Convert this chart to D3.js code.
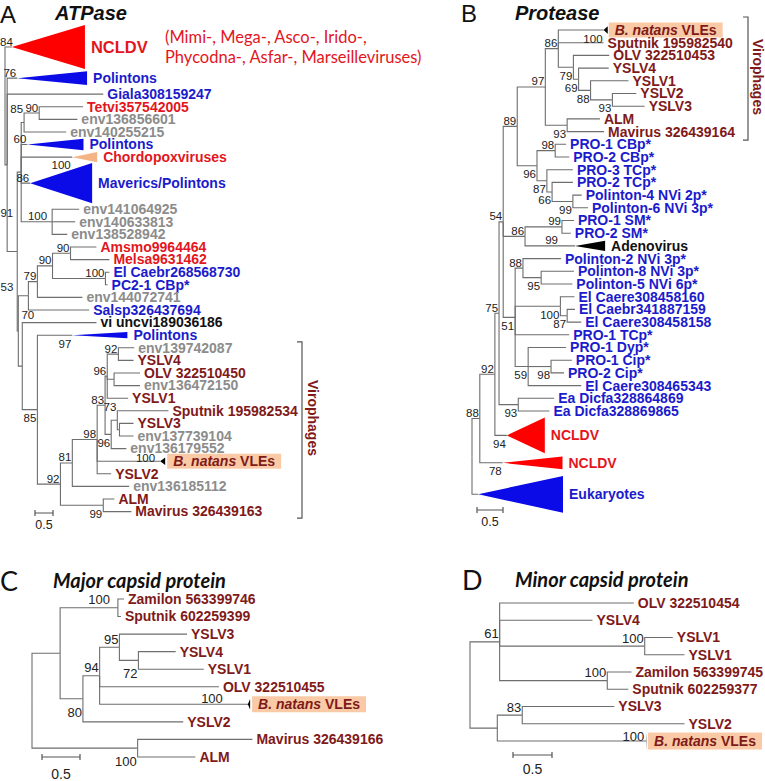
<!DOCTYPE html>
<html><head><meta charset="utf-8">
<script src="https://cdn.jsdelivr.net/npm/d3@7"></script>
<style>body{margin:0;background:#fff}svg{display:block}</style>
</head><body>
<svg id="fig" width="765" height="781"></svg>
<script>
// ---------- DATA ----------
// tree rows: [id, parentId, branchLength, support, label, colourCode]
const treeA = [
 ["R","",0,null,"",""],
 ["NCLDV","R",0.19,84,"NCLDV","r"],
 ["A1","R",0.06,null,"",""],
 ["Pol1","A1",0.28,76,"Polintons","b"],
 ["Giala","A1",2.67,null,"Giala308159247","b"],
 ["A2","A1",0.28,91,"",""],
 ["A2a","A2",0.11,null,"",""],
 ["Q","A2a",0.08,85,"",""],
 ["P","Q",0.42,90,"",""],
 ["Tetvi","P",1.22,null,"Tetvi357542005","r"],
 ["e1368","P",1.06,null,"env136856601","g"],
 ["e1402","Q",1.17,null,"env140255215","g"],
 ["Pol2","A2a",0.17,60,"Polintons","b"],
 ["Chordo","A2a",1.42,null,"Chordopoxviruses","r"],
 ["Mav","A2a",0.25,86,"Maverics/Polintons","b"],
 ["ET","A2a",0.86,100,"",""],
 ["e1410","ET",0.75,null,"env141064925","g"],
 ["e1406","ET",0.64,null,"env140633813","g"],
 ["e1385","ET",0.42,null,"env138528942","g"],
 ["A3","A2",0.03,53,"",""],
 ["N28","A3",0.28,null,"",""],
 ["N79","N28",0.25,79,"",""],
 ["N90b","N79",0.42,90,"",""],
 ["N90a","N90b",0.5,90,"",""],
 ["Amsmo","N90a",0.72,null,"Amsmo9964464","r"],
 ["Melsa","N90a",1.08,null,"Melsa9631462","r"],
 ["E","N90b",1.47,100,"",""],
 ["ElCaebr","E",0.11,null,"El Caebr268568730","b"],
 ["PC21","E",0.06,null,"PC2-1 CBp*","b"],
 ["e1440","N79",1.25,null,"env144072741","g"],
 ["Salsp","N28",1.69,null,"Salsp326437694","b"],
 ["X70","A3",0.11,70,"",""],
 ["vi","X70",2.06,null,"vi uncvi189036186","k"],
 ["C","X70",0.42,85,"",""],
 ["Pol3","C",0.97,97,"Polintons","b"],
 ["D","C",0.64,92,"",""],
 ["N81","D",0.33,81,"",""],
 ["N98","N81",0.69,98,"",""],
 ["N83","N98",0.22,83,"",""],
 ["N96u","N83",0.06,96,"",""],
 ["N92","N96u",0.31,92,"",""],
 ["e1397","N92",0.44,null,"env139742087","g"],
 ["YSLV4","N92",0.42,null,"YSLV4","d"],
 ["NOLV","N96u",0.19,null,"",""],
 ["OLV","NOLV",0.72,null,"OLV 322510450","d"],
 ["e1364","NOLV",0.72,null,"env136472150","g"],
 ["YSLV1","N96u",0.58,null,"YSLV1","d"],
 ["N96L","N83",0.17,96,"",""],
 ["N73","N96L",0.17,73,"",""],
 ["Sput","N73",1.42,null,"Sputnik 195982534","d"],
 ["N3","N73",0.06,null,"",""],
 ["YSLV3","N3",0.39,null,"YSLV3","d"],
 ["e1377","N3",0.39,null,"env137739104","g"],
 ["e1361","N96L",0.42,null,"env136179552","g"],
 ["Bnat","N98",1.75,100,"B. natans VLEs","d"],
 ["YSLV2","N98",0.39,null,"YSLV2","d"],
 ["e13618","N81",1.58,null,"env136185112","g"],
 ["ALMM","D",1.19,99,"",""],
 ["ALM","ALMM",0.31,null,"ALM","d"],
 ["Mavirus","ALMM",0.78,null,"Mavirus 326439163","d"]
];
// collapsed clades: [id, rowSpan, cladeDepth, cladeBreadth(rows), colourCode]
const collapsedA = [
 ["NCLDV",3.4,2.03,3.5,"r"],
 ["Pol1",1.54,1.94,1.1,"b"],
 ["Pol2",1,1.56,0.9,"b"],
 ["Chordo",1,0.69,0.8,"p"],
 ["Mav",3.13,1.72,3.2,"b"],
 ["Pol3",1,1.53,0.5,"b"],
 ["Bnat",1,0.14,0.6,"k"]
];
const innerSupportA = [["Mav",100]];

const treeB = [
 ["R","",0,null,"",""],
 ["N88","R",0.15,88,"",""],
 ["N92","N88",0.29,92,"",""],
 ["N75","N92",0.08,75,"",""],
 ["N54","N75",0.08,54,"",""],
 ["Na","N54",0.27,89,"",""],
 ["Viro","Na",0.54,97,"",""],
 ["N86v","Viro",0.25,86,"",""],
 ["Bnat","N86v",0.87,100,"B. natans VLEs","d"],
 ["Sput","N86v",0.87,null,"Sputnik 195982540","d"],
 ["N79","N86v",0.29,79,"",""],
 ["OLV","N79",0.69,null,"OLV 322510453","d"],
 ["N69","N79",0.1,69,"",""],
 ["YSLV4","N69",0.58,null,"YSLV4","d"],
 ["N88y","N69",0.23,88,"",""],
 ["YSLV1","N88y",0.73,null,"YSLV1","d"],
 ["N93y","N88y",0.42,93,"",""],
 ["YSLV2","N93y",0.46,null,"YSLV2","d"],
 ["YSLV3","N93y",0.62,null,"YSLV3","d"],
 ["ALMg","Viro",0.42,93,"",""],
 ["ALM","ALMg",0.63,null,"ALM","d"],
 ["Mavirus","ALMg",0.71,null,"Mavirus 326439164","d"],
 ["N96p","Na",0.38,96,"",""],
 ["CB98","N96p",0.35,98,"",""],
 ["CB1","CB98",0.21,null,"PRO-1 CBp*","b"],
 ["CB2","CB98",0.27,null,"PRO-2 CBp*","b"],
 ["N87","N96p",0.19,87,"",""],
 ["TC3","N87",0.5,null,"PRO-3 TCp*","b"],
 ["N66","N87",0.1,66,"",""],
 ["TC2","N66",0.4,null,"PRO-2 TCp*","b"],
 ["N99p","N66",0.4,99,"",""],
 ["P4","N99p",0.17,null,"Polinton-4 NVi 2p*","b"],
 ["P6","N99p",0.29,null,"Polinton-6 NVi 3p*","b"],
 ["N86","N54",0.42,86,"",""],
 ["SM99","N86",0.71,99,"",""],
 ["SM1","SM99",0.23,null,"PRO-1 SM*","b"],
 ["SM2","SM99",0.17,null,"PRO-2 SM*","b"],
 ["Adeno","N86",0.96,99,"Adenovirus","k"],
 ["N51","N54",0.23,51,"",""],
 ["N88p","N51",0.15,88,"",""],
 ["P2","N88p",0.73,null,"Polinton-2 NVi 3p*","b"],
 ["N95","N88p",0.35,95,"",""],
 ["P8","N95",0.63,null,"Polinton-8 NVi 3p*","b"],
 ["P5","N95",0.6,null,"Polinton-5 NVi 6p*","b"],
 ["N100e","N51",0.87,100,"",""],
 ["C160","N100e",0.27,null,"El Caere308458160","b"],
 ["N87e","N100e",0.13,87,"",""],
 ["C159","N87e",0.15,null,"El Caebr341887159","b"],
 ["C158","N87e",0.27,null,"El Caere308458158","b"],
 ["TCp1","N51",1.04,null,"PRO-1 TCp*","b"],
 ["N59","N51",0.25,59,"",""],
 ["Dyp","N59",0.73,null,"PRO-1 Dyp*","b"],
 ["N98c","N59",0.44,98,"",""],
 ["Cip1","N98c",0.4,null,"PRO-1 Cip*","b"],
 ["Cip2","N98c",0.25,null,"PRO-2 Cip*","b"],
 ["C343","N59",1.02,null,"El Caere308465343","b"],
 ["Ea93","N75",0.37,93,"",""],
 ["D1","Ea93",0.69,null,"Ea Dicfa328864869","b"],
 ["D2","Ea93",0.6,null,"Ea Dicfa328869865","b"],
 ["NC1","N92",0.23,94,"NCLDV","r"],
 ["NC2","N88",0.44,78,"NCLDV","r"],
 ["Euk","R",0.12,null,"Eukaryotes","b"]
];
const collapsedB = [
 ["Bnat",1,0.08,0.6,"k"],
 ["Adeno",1,0.58,0.8,"k"],
 ["NC1",2.84,0.73,2.83,"r"],
 ["NC2",1.48,1.15,1.0,"r"],
 ["Euk",3.48,1.63,2.9,"b"]
];

const treeC = [
 ["R","",0,null,"",""],
 ["NL","R",0.37,null,"",""],
 ["Z100","NL",0.76,100,"",""],
 ["Zam","Z100",0.08,null,"Zamilon 563399746","d"],
 ["Sput","Z100",0.04,null,"Sputnik 602259399","d"],
 ["N80","NL",0.3,80,"",""],
 ["N94","N80",0.22,94,"",""],
 ["N95","N94",0.26,95,"",""],
 ["YSLV3","N95",0.89,null,"YSLV3","d"],
 ["N72","N95",0.25,72,"",""],
 ["YSLV4","N72",0.49,null,"YSLV4","d"],
 ["YSLV1","N72",0.86,null,"YSLV1","d"],
 ["OLV","N94",1.57,null,"OLV 322510455","d"],
 ["Bnat","N94",1.95,100,"B. natans VLEs","d"],
 ["YSLV2","N80",1.32,null,"YSLV2","d"],
 ["NMA","R",1.39,100,"",""],
 ["Mavirus","NMA",1.51,null,"Mavirus 326439166","d"],
 ["ALM","NMA",0.76,null,"ALM","d"]
];
const collapsedC = [["Bnat",1,0.03,0.6,"k"]];

const treeD = [
 ["R","",0,null,"",""],
 ["N61","R",0.38,61,"",""],
 ["OLV","N61",1.72,null,"OLV 322510454","d"],
 ["YSLV4","N61",1.19,null,"YSLV4","d"],
 ["N100a","N61",1.86,100,"",""],
 ["Y1a","N100a",0.36,null,"YSLV1","d"],
 ["Y1b","N100a",0.51,null,"YSLV1","d"],
 ["N100b","N61",1.38,100,"",""],
 ["Zam","N100b",0.31,null,"Zamilon 563399745","d"],
 ["Sput","N100b",0.27,null,"Sputnik 602259377","d"],
 ["NLo","R",0.35,null,"",""],
 ["N83","NLo",0.32,83,"",""],
 ["YSLV3","N83",1.18,null,"YSLV3","d"],
 ["YSLV2","N83",2.08,null,"YSLV2","d"],
 ["Bnat","NLo",1.91,100,"B. natans VLEs","d"]
];
const collapsedD = [["Bnat",1,0.01,1.2,"g"]];

const scaleBarLength = 0.5;
const panelTitles = ["ATPase","Protease","Major capsid protein","Minor capsid protein"];
const panelLetters = ["A","B","C","D"];

// ---------- STYLE / LAYOUT ----------
const TEXT = {r:"#e3161d", b:"#1b1bcc", g:"#8c8c8c", d:"#7f1a1a", k:"#111"};
const FILL = {r:"#ff0000", b:"#0b0be8", k:"#000", p:"#f5b483", g:"#9a9a9a"};
const BOX = "#f9caa5";
const LINE = "#6e6e6e";
const FONT = "'Liberation Sans', Arial, Helvetica, sans-serif";

const svg = d3.select("#fig");
svg.append("rect").attr("width",765).attr("height",781).attr("fill","#fff");

function drawTree(rows, collapsed, inner, place, cfg) {
  const g = svg.append("g");
  const col = new Map(collapsed.map(c => [c[0], {span:c[1], depth:c[2], breadth:c[3], fill:c[4]}]));
  const root = d3.stratify().id(d => d[0]).parentId(d => d[1])(rows);
  root.eachBefore(n => { n.dist = n.parent ? n.parent.dist + n.data[2] : 0; });
  let cum = 0;
  root.leaves().forEach(l => { const s = col.has(l.id) ? col.get(l.id).span : 1; l.row = cum + s/2; cum += s; });
  root.eachAfter(n => { if (n.children) n.row = (n.children[0].row + n.children[n.children.length-1].row)/2; });
  const x = d3.scaleLinear().domain([0,1]).range([cfg.x0, cfg.x0 + cfg.unit]);
  const y = d3.scaleLinear().domain([0,1]).range([cfg.y0, cfg.y0 + cfg.rowH]);
  const pos = {};
  root.each(n => pos[n.id] = n);

  g.selectAll("path.br").data(root.links()).join("path")
    .attr("fill","none").attr("stroke",LINE).attr("stroke-width",1.1)
    .attr("d", l => `M${x(l.source.dist)},${y(l.source.row)}V${y(l.target.row)}H${x(l.target.dist)}`);

  root.leaves().filter(l => col.has(l.id)).forEach(l => {
    const c = col.get(l.id);
    const ax = x(l.dist), ay = y(l.row), rx = x(l.dist + c.depth), h = c.breadth * cfg.rowH / 2;
    g.append("path").attr("d", `M${ax},${ay}L${rx},${ay-h}L${rx},${ay+h}Z`).attr("fill", FILL[c.fill]);
  });
  inner.forEach(([id, v]) => {
    const l = pos[id], c = col.get(id);
    const ax = x(l.dist), rx = x(l.dist + c.depth), h = c.breadth * cfg.rowH / 2;
    const mx = (ax + rx)/2;
    g.append("text").attr("x", mx).attr("y", y(l.row) - h/2 - 8).attr("dy","0.35em")
      .attr("text-anchor","middle").attr("font-family",FONT).attr("font-size",cfg.supFont).attr("fill","#222").text(v);
  });

  root.leaves().forEach(l => {
    const c = col.get(l.id);
    const ex = x(l.dist + (c ? c.depth : 0));
    const ly = y(l.row);
    const fs = (cfg.big && cfg.big[l.id]) || cfg.leafFont;
    if (l.data[4] === "B. natans VLEs") {
      const bx = ex + cfg.boxGap;
      const t = g.append("text").attr("x", bx + 6).attr("y", ly).attr("dy","0.35em")
        .attr("font-family",FONT).attr("font-size",fs).attr("font-weight","bold").attr("fill",TEXT.d);
      t.append("tspan").attr("font-style","italic").text("B. natans");
      t.append("tspan").text(" VLEs");
      const w = t.node().getComputedTextLength();
      g.insert("rect", () => t.node()).attr("x", bx).attr("y", ly - cfg.boxH/2).attr("width", w + 12)
        .attr("height", cfg.boxH).attr("fill", BOX);
      return;
    }
    g.append("text").attr("x", ex + (c ? 6 : 4)).attr("y", ly).attr("dy","0.35em")
      .attr("font-family",FONT).attr("font-size",fs).attr("font-weight","bold")
      .attr("fill", TEXT[l.data[5]]).text(l.data[4]);
  });

  root.each(n => {
    if (n.data[3] == null) return;
    const p = place[n.id] || ["a",0,0];
    const mode = typeof p === "string" ? p : p[0];
    const dx = typeof p === "string" ? 0 : p[1], dy = typeof p === "string" ? 0 : p[2];
    const cy = y(n.row) + (mode === "b" ? cfg.below : -cfg.above) + dy;
    g.append("text").attr("x", x(n.dist) - 1 + dx).attr("y", cy).attr("dy","0.35em")
      .attr("text-anchor","end").attr("font-family",FONT).attr("font-size",cfg.supFont)
      .attr("fill","#222").text(n.data[3]);
  });

  const sb = cfg.bar;
  const bx0 = sb[0], bx1 = sb[0] + scaleBarLength * cfg.unit;
  g.append("path").attr("d", `M${bx0},${sb[1]-3}V${sb[1]+3}M${bx0},${sb[1]}H${bx1}M${bx1},${sb[1]-3}V${sb[1]+3}`)
    .attr("stroke","#555").attr("stroke-width",1.2).attr("fill","none");
  g.append("text").attr("x",(bx0+bx1)/2).attr("y",sb[1]+cfg.barText).attr("dy","0.35em").attr("text-anchor","middle")
    .attr("font-family",FONT).attr("font-size",cfg.supFont + 1).attr("fill","#222").text(scaleBarLength);

  return {x, y, pos};
}

const tA = drawTree(treeA, collapsedA, innerSupportA,
  {NCLDV:["a",2,0], C:"b", Pol3:"b", N96L:"b", ALMM:"b", A2:["a",-3,-33], A3:["a",-4,-38.5], X70:["a",13,-45.5],
   Q:["a",0,-8], N73:["a",0,-8], ET:["a",-4,0], Bnat:["a",-4,2]},
  {x0:5, unit:36, y0:25.6, rowH:12.6, leafFont:14, supFont:11.5, above:5.5, below:8.5,
   boxGap:2, boxH:15, bar:[35,513], barText:12, big:{NCLDV:16.5}});

const tB = drawTree(treeB, collapsedB, [],
  {Bnat:"b", N79:"b", N69:"b", N88y:"b", N93y:"b", ALMg:"b", N96p:"b", N87:"b", N66:"b", N99p:"b",
   N95:"b", N100e:"b", N87e:"b", N51:"b", N59:"b", N98c:"b", Ea93:"b", NC1:"b", NC2:"b", Adeno:["a",-16,0]},
  {x0:472, unit:52, y0:23.65, rowH:12.7, leafFont:14, supFont:11.5, above:5.5, below:8.5,
   boxGap:1, boxH:15, bar:[477,510], barText:12});

const tC = drawTree(treeC, collapsedC, [],
  {N72:"b", N80:"b", NMA:"b", Bnat:["a",-24,2], Z100:["a",-7,0]},
  {x0:32, unit:76, y0:590.2, rowH:17.55, leafFont:14, supFont:13, above:8, below:13.5,
   boxGap:2, boxH:16, bar:[42,757], barText:17});

const tD = drawTree(treeD, collapsedD, [],
  {Bnat:["a",-1,3]},
  {x0:470, unit:78, y0:594.4, rowH:17.25, leafFont:14, supFont:13, above:8, below:13.5,
   boxGap:1, boxH:17, bar:[513,755], barText:14});

function bracket(t, topId, botId, bx, padTop, padBot, tx, ty) {
  const y0 = t.y(t.pos[topId].row) - padTop, y1 = t.y(t.pos[botId].row) + padBot;
  svg.append("path").attr("d", `M${bx-5},${y0}H${bx}V${y1}H${bx-5}`)
    .attr("fill","none").attr("stroke","#555").attr("stroke-width",1.2);
  svg.append("text").attr("transform", `translate(${tx},${ty}) rotate(90)`).attr("text-anchor","middle")
    .attr("dy","0.35em").attr("font-family",FONT).attr("font-size",14).attr("font-weight","bold")
    .attr("fill",TEXT.d).text("Virophages");
}
bracket(tA, "e1397", "Mavirus", 302, 6, 6.5, 313, 418);
bracket(tB, "Bnat", "Mavirus", 748, 13, 8.5, 758, 77);

svg.append("text").attr("x",165).attr("y",43).attr("font-family","Lato, 'Open Sans', sans-serif")
  .attr("font-size",16.5).attr("fill",TEXT.r).text("(Mimi-, Mega-, Asco-, Irido-,");
svg.append("text").attr("x",165).attr("y",63).attr("font-family","Lato, 'Open Sans', sans-serif")
  .attr("font-size",16.5).attr("fill",TEXT.r).text("Phycodna-, Asfar-, Marseilleviruses)");

const letterPos = [[0,23,FONT,24],[461,22,FONT,24],[0,591,"Lato, sans-serif",27],[462,590,"Lato, sans-serif",27]];
const titlePos = [[55,20,FONT,20],[515,20,FONT,20],[53,588,"Lato, sans-serif",20],[515,587,"Lato, sans-serif",20]];
panelLetters.forEach((L,i) => {
  svg.append("text").attr("x",letterPos[i][0]).attr("y",letterPos[i][1]).attr("font-family",letterPos[i][2])
    .attr("font-size",letterPos[i][3]).attr("fill","#111").text(L);
});
panelTitles.forEach((T,i) => {
  svg.append("text").attr("x",titlePos[i][0]).attr("y",titlePos[i][1]).attr("font-family",titlePos[i][2])
    .attr("font-size",titlePos[i][3]).attr("font-weight","bold").attr("font-style","italic").attr("fill","#111").text(T);
});
</script>
</body></html>
